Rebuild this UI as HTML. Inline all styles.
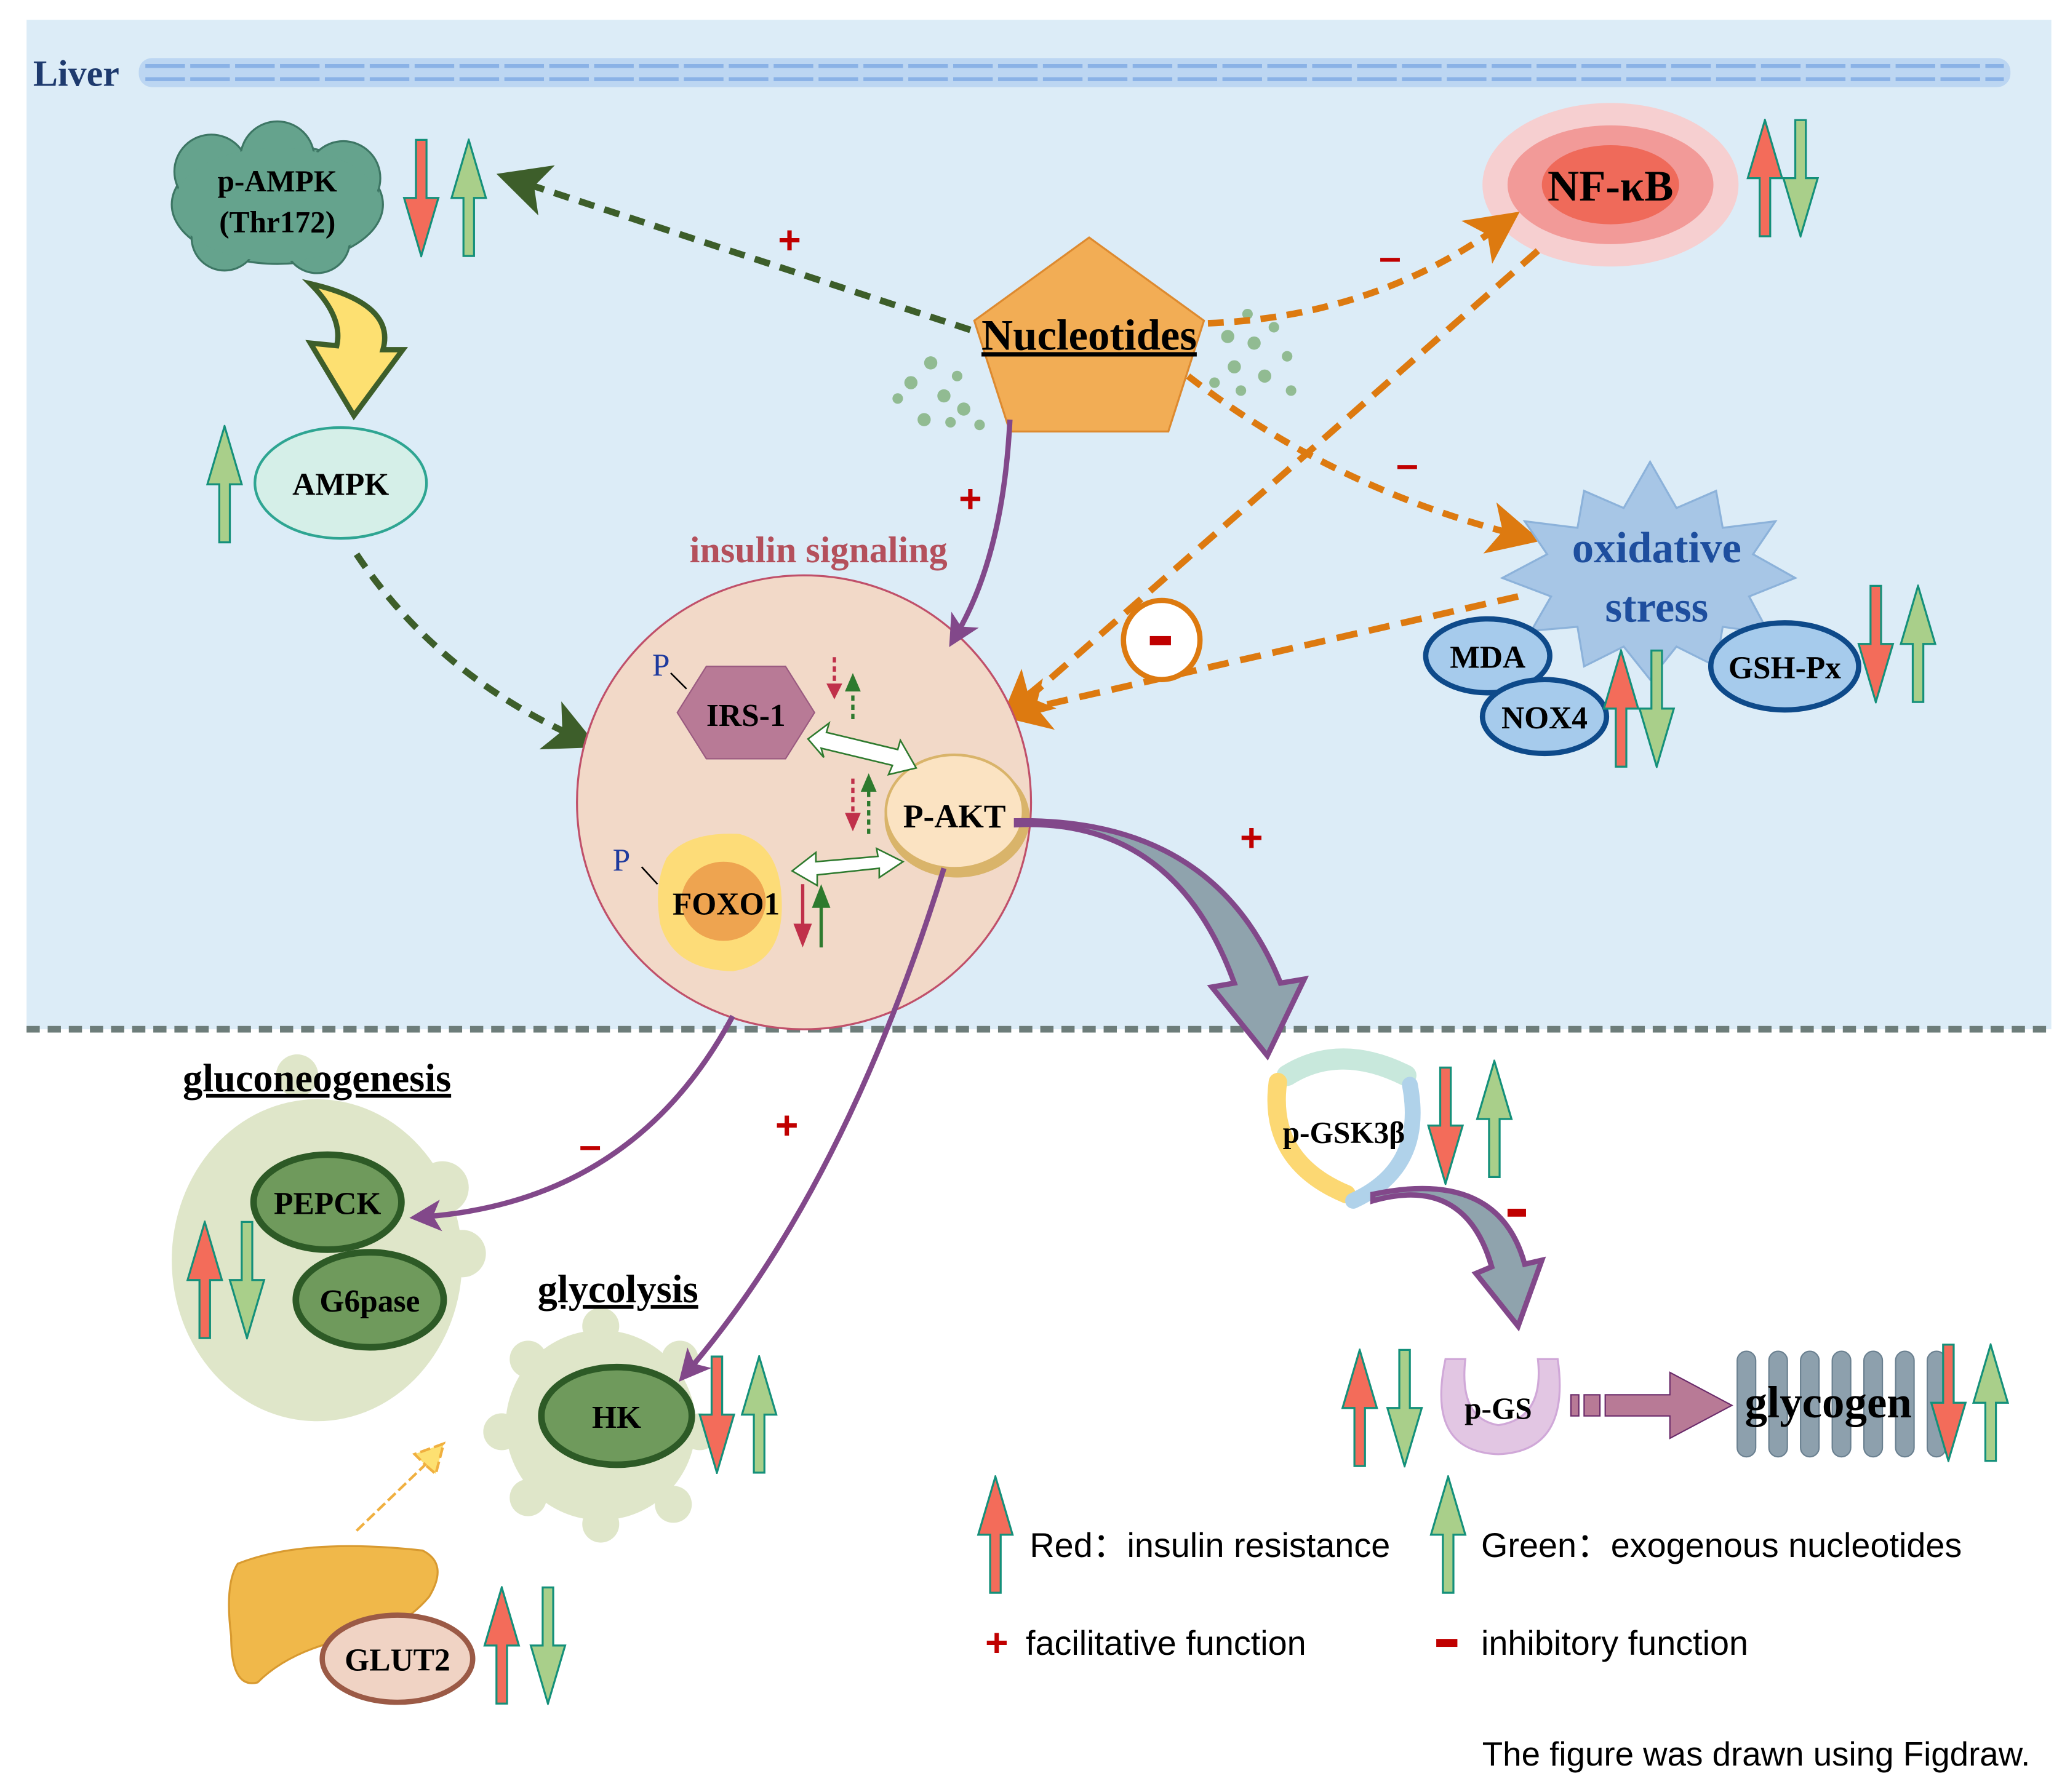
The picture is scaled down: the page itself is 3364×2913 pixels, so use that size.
<!DOCTYPE html>
<html><head><meta charset="utf-8"><style>html,body{margin:0;padding:0;background:#fff}svg{display:block}</style></head><body>
<svg width="3364" height="2913" viewBox="0 0 1568 1358" xmlns="http://www.w3.org/2000/svg" font-family="Liberation Serif, serif" font-weight="bold">
<defs>
<symbol id="ru" viewBox="0 0 28 90"><polygon points="14,1 27,45 18,45 18,89 10,89 10,45 1,45" fill="#f36c5a" stroke="#14907a" stroke-width="1.5"/></symbol>
<symbol id="rd" viewBox="0 0 28 90"><polygon points="14,89 27,45 18,45 18,1 10,1 10,45 1,45" fill="#f36c5a" stroke="#14907a" stroke-width="1.5"/></symbol>
<symbol id="gu" viewBox="0 0 28 90"><polygon points="14,1 27,45 18,45 18,89 10,89 10,45 1,45" fill="#a9cf8a" stroke="#14907a" stroke-width="1.5"/></symbol>
<symbol id="gd" viewBox="0 0 28 90"><polygon points="14,89 27,45 18,45 18,1 10,1 10,45 1,45" fill="#a9cf8a" stroke="#14907a" stroke-width="1.5"/></symbol>
<marker id="mg" markerWidth="8" markerHeight="8" refX="4" refY="4" orient="auto" markerUnits="strokeWidth"><path d="M0,0 L8,4 L0,8 L2,4z" fill="#3d5e2a"/></marker>
<marker id="mo" markerWidth="8" markerHeight="8" refX="4" refY="4" orient="auto" markerUnits="strokeWidth"><path d="M0,0 L8,4 L0,8 L2,4z" fill="#dd7a10"/></marker>
<marker id="mp" markerWidth="6" markerHeight="6" refX="3" refY="3" orient="auto" markerUnits="strokeWidth"><path d="M0,0 L6,3 L0,6 L1.5,3z" fill="#82488a"/></marker>
</defs>
<rect x="20" y="15" width="1534" height="765" fill="#dcecf7"/>
<line x1="20" y1="780" x2="1554" y2="780" stroke="#6d7d7a" stroke-width="5" stroke-dasharray="10,6"/>
<text x="25" y="65" font-size="28" fill="#1e3a6e">Liver</text>
<rect x="105" y="44" width="1418" height="22" rx="10" fill="#bcd6f2"/>
<line x1="110" y1="50" x2="1518" y2="50" stroke="#8ab2e6" stroke-width="3" stroke-dasharray="30,4"/>
<line x1="110" y1="60" x2="1518" y2="60" stroke="#8ab2e6" stroke-width="3" stroke-dasharray="30,4"/>

<!-- p-AMPK cloud -->
<g fill="#65a38d" stroke="#3d7664" stroke-width="1.5">
<ellipse cx="210" cy="155" rx="80" ry="45"/><circle cx="160" cy="130" r="28"/><circle cx="210" cy="120" r="28"/><circle cx="260" cy="135" r="28"/><circle cx="170" cy="180" r="25"/><circle cx="240" cy="182" r="25"/>
</g>
<ellipse cx="210" cy="155" rx="78" ry="43" fill="#65a38d"/>
<text x="210" y="145" font-size="23" text-anchor="middle">p-AMPK</text>
<text x="210" y="176" font-size="23" text-anchor="middle">(Thr172)</text>
<use href="#rd" x="305" y="105" width="28" height="90"/>
<use href="#gu" x="341" y="105" width="28" height="90"/>
<path d="M235,215 Q300,230 290,265 L305,265 L268,315 L235,260 L255,262 Q260,240 235,215z" fill="#fde071" stroke="#3d5e2a" stroke-width="4"/>
<ellipse cx="258" cy="366" rx="65" ry="42" fill="#d5efe8" stroke="#2ea592" stroke-width="2"/>
<text x="258" y="375" font-size="24" text-anchor="middle">AMPK</text>
<use href="#gu" x="156" y="322" width="28" height="90"/>
<path d="M270,420 Q330,510 435,558" fill="none" stroke="#3d5e2a" stroke-width="5" stroke-dasharray="12,8" marker-end="url(#mg)"/>
<path d="M735,250 L395,138" fill="none" stroke="#3d5e2a" stroke-width="5" stroke-dasharray="12,8" marker-end="url(#mg)"/>
<text x="598" y="192" font-size="30" fill="#c00000" text-anchor="middle" font-family="Liberation Sans">+</text>

<!-- dots -->
<g fill="#7fb07a" opacity="0.8">
<circle cx="690" cy="290" r="5"/><circle cx="705" cy="275" r="5"/><circle cx="715" cy="300" r="5"/><circle cx="700" cy="318" r="5"/><circle cx="725" cy="285" r="4"/><circle cx="730" cy="310" r="5"/><circle cx="742" cy="322" r="4"/><circle cx="720" cy="320" r="4"/><circle cx="680" cy="302" r="4"/>
<circle cx="930" cy="255" r="5"/><circle cx="950" cy="260" r="5"/><circle cx="945" cy="238" r="4"/><circle cx="965" cy="248" r="4"/><circle cx="935" cy="278" r="5"/><circle cx="958" cy="285" r="5"/><circle cx="975" cy="270" r="4"/><circle cx="940" cy="296" r="4"/><circle cx="978" cy="296" r="4"/><circle cx="920" cy="290" r="4"/>
</g>
<polygon points="825,180 912,243 885,327 765,327 738,243" fill="#f2ad55" stroke="#dd8a30" stroke-width="1.5"/>
<text x="825" y="265" font-size="33" text-anchor="middle" text-decoration="underline">Nucleotides</text>

<!-- NF-kB -->
<ellipse cx="1220" cy="140" rx="97" ry="62" fill="#f6cfd0"/>
<ellipse cx="1220" cy="140" rx="78" ry="45" fill="#f29a98"/>
<ellipse cx="1220" cy="140" rx="52" ry="30" fill="#ef6a5a"/>
<text x="1220" y="152" font-size="33" text-anchor="middle">NF-κB</text>
<use href="#ru" x="1323" y="90" width="28" height="90"/>
<use href="#gd" x="1350" y="90" width="28" height="90"/>

<path d="M915,245 Q1040,240 1135,172" fill="none" stroke="#dd7a10" stroke-width="5" stroke-dasharray="12,8" marker-end="url(#mo)"/>
<path d="M900,285 Q1010,370 1148,405" fill="none" stroke="#dd7a10" stroke-width="5" stroke-dasharray="12,8" marker-end="url(#mo)"/>
<path d="M1165,190 L772,535" fill="none" stroke="#dd7a10" stroke-width="5" stroke-dasharray="16,9" marker-end="url(#mo)"/>
<path d="M1150,452 L775,538" fill="none" stroke="#dd7a10" stroke-width="5" stroke-dasharray="16,9" marker-end="url(#mo)"/>
<text x="1053" y="205" font-size="30" fill="#c00000" text-anchor="middle" font-family="Liberation Sans">–</text>
<text x="1066" y="362" font-size="30" fill="#c00000" text-anchor="middle" font-family="Liberation Sans">–</text>
<ellipse cx="880" cy="485" rx="29" ry="30" fill="#fff" stroke="#dd7a10" stroke-width="4"/>
<rect x="871" y="482" width="16" height="7" fill="#c00000"/>

<!-- oxidative stress -->
<polygon points="1250,350 1270,385 1300,372 1305,400 1345,395 1328,420 1360,438 1325,452 1340,480 1305,475 1300,505 1270,490 1250,515 1230,490 1200,505 1195,475 1160,478 1175,452 1138,438 1172,420 1155,395 1195,400 1200,372 1230,385" fill="#a7c6e6" stroke="#8cb2da" stroke-width="1.5"/>
<text x="1255" y="426" font-size="33" fill="#1e4e9e" text-anchor="middle">oxidative</text>
<text x="1255" y="471" font-size="33" fill="#1e4e9e" text-anchor="middle">stress</text>
<ellipse cx="1127" cy="497" rx="47" ry="28" fill="#a6cbec" stroke="#0e4a8a" stroke-width="4"/>
<text x="1127" y="506" font-size="24" text-anchor="middle">MDA</text>
<ellipse cx="1170" cy="543" rx="47" ry="28" fill="#a6cbec" stroke="#0e4a8a" stroke-width="4"/>
<text x="1170" y="552" font-size="24" text-anchor="middle">NOX4</text>
<ellipse cx="1352" cy="505" rx="56" ry="33" fill="#a6cbec" stroke="#0e4a8a" stroke-width="4"/>
<text x="1352" y="514" font-size="24" text-anchor="middle">GSH-Px</text>
<use href="#ru" x="1214" y="492" width="28" height="90"/>
<use href="#gd" x="1241" y="492" width="28" height="90"/>
<use href="#rd" x="1407" y="443" width="28" height="90"/>
<use href="#gu" x="1439" y="443" width="28" height="90"/>

<!-- insulin signaling circle -->
<text x="620" y="426" font-size="28" fill="#b4505c" text-anchor="middle">insulin signaling</text>
<ellipse cx="609" cy="608" rx="172" ry="172" fill="#f2d9c8" stroke="#c0506a" stroke-width="1.5"/>
<path d="M765,318 Q760,420 725,480" fill="none" stroke="#82488a" stroke-width="4" marker-end="url(#mp)"/>
<text x="735" y="388" font-size="30" fill="#c00000" text-anchor="middle" font-family="Liberation Sans">+</text>
<polygon points="513,540 535,505 595,505 617,540 595,575 535,575" fill="#b87a96" stroke="#9a5a80" stroke-width="1"/>
<text x="565" y="550" font-size="24" text-anchor="middle">IRS-1</text>
<text x="494" y="512" font-size="24" fill="#1e3a9e" font-weight="normal">P</text>
<line x1="508" y1="510" x2="520" y2="522" stroke="#000" stroke-width="1.2"/>
<ellipse cx="725" cy="620" rx="55" ry="45" fill="#d9b46a"/>
<ellipse cx="723" cy="615" rx="52" ry="43" fill="#fbe3c2" stroke="#d9b46a" stroke-width="2"/>
<text x="723" y="627" font-size="25" text-anchor="middle">P-AKT</text>
<path d="M505,650 Q520,630 560,632 Q590,640 592,680 Q595,730 555,736 Q510,735 500,700 Q495,670 505,650z" fill="#fddc78"/>
<ellipse cx="548" cy="683" rx="32" ry="30" fill="#eea450"/>
<text x="550" y="693" font-size="24" text-anchor="middle">FOXO1</text>
<text x="464" y="660" font-size="24" fill="#1e3a9e" font-weight="normal">P</text>
<line x1="486" y1="657" x2="498" y2="670" stroke="#000" stroke-width="1.2"/>
<path d="M612,560 L628,548 L626,555 L680,568 L682,561 L694,582 L673,587 L676,580 L622,567 L624,574z" fill="#fff" stroke="#2e7a2e" stroke-width="1.2"/>
<path d="M600,660 L618,646 L618,653 L665,649 L664,643 L684,653 L666,665 L666,658 L619,663 L619,671z" fill="#fff" stroke="#2e7a2e" stroke-width="1.2"/>
<line x1="632" y1="498" x2="632" y2="520" stroke="#c0304a" stroke-width="2.5" stroke-dasharray="4,3"/><polygon points="626,518 638,518 632,530" fill="#c0304a"/>
<line x1="646" y1="545" x2="646" y2="522" stroke="#2e7a2e" stroke-width="2.5" stroke-dasharray="4,3"/><polygon points="640,524 652,524 646,510" fill="#2e7a2e"/>
<line x1="646" y1="590" x2="646" y2="618" stroke="#c0304a" stroke-width="2.5" stroke-dasharray="4,3"/><polygon points="640,616 652,616 646,630" fill="#c0304a"/>
<line x1="658" y1="632" x2="658" y2="598" stroke="#2e7a2e" stroke-width="2.5" stroke-dasharray="4,3"/><polygon points="652,600 664,600 658,586" fill="#2e7a2e"/>
<line x1="608" y1="670" x2="608" y2="705" stroke="#c0304a" stroke-width="2.5"/><polygon points="601,700 615,700 608,718" fill="#c0304a"/>
<line x1="622" y1="718" x2="622" y2="685" stroke="#2e7a2e" stroke-width="2.5"/><polygon points="615,688 629,688 622,670" fill="#2e7a2e"/>

<!-- big gray arrow PAKT->GSK -->
<path d="M770,625 Q890,620 935,745 L918,748 L960,800 L988,742 L970,745 Q920,620 770,622z" fill="#8fa3ad" stroke="#82488a" stroke-width="4"/>
<text x="948" y="645" font-size="30" fill="#c00000" text-anchor="middle" font-family="Liberation Sans">+</text>

<!-- gluconeogenesis -->
<g fill="#dfe6c9">
<ellipse cx="240" cy="955" rx="110" ry="122"/><circle cx="225" cy="815" r="16"/><circle cx="335" cy="900" r="20"/><circle cx="350" cy="950" r="18"/>
</g>
<text x="240" y="827" font-size="30" text-anchor="middle" text-decoration="underline">gluconeogenesis</text>
<ellipse cx="280" cy="985" rx="56" ry="36" fill="#6f9a5c" stroke="#2d5a26" stroke-width="5"/>
<text x="280" y="994" font-size="24" text-anchor="middle">G6pase</text>
<ellipse cx="248" cy="911" rx="56" ry="36" fill="#6f9a5c" stroke="#2d5a26" stroke-width="5"/>
<text x="248" y="920" font-size="24" text-anchor="middle">PEPCK</text>
<use href="#ru" x="141" y="925" width="28" height="90"/>
<use href="#gd" x="173" y="925" width="28" height="90"/>

<!-- glycolysis -->
<g fill="#dfe6c9">
<circle cx="455" cy="1080" r="72"/>
<circle cx="400" cy="1030" r="14"/><circle cx="455" cy="1005" r="14"/><circle cx="515" cy="1030" r="14"/><circle cx="530" cy="1085" r="14"/><circle cx="510" cy="1140" r="14"/><circle cx="455" cy="1155" r="14"/><circle cx="400" cy="1135" r="14"/><circle cx="380" cy="1085" r="14"/>
</g>
<text x="468" y="987" font-size="30" text-anchor="middle" text-decoration="underline">glycolysis</text>
<ellipse cx="467" cy="1073" rx="57" ry="37" fill="#6f9a5c" stroke="#2d5a26" stroke-width="5"/>
<text x="467" y="1082" font-size="24" text-anchor="middle">HK</text>
<use href="#rd" x="529" y="1027" width="28" height="90"/>
<use href="#gu" x="561" y="1027" width="28" height="90"/>
<path d="M270,1160 L322,1110 L314,1102 L336,1094 L330,1117 L322,1110" fill="#fde071" stroke="#f0b040" stroke-width="2" stroke-dasharray="8,3"/>

<!-- purple arrows lower (on top) -->
<path d="M555,770 Q480,910 322,922" fill="none" stroke="#82488a" stroke-width="4" marker-end="url(#mp)"/>
<text x="447" y="878" font-size="30" fill="#c00000" text-anchor="middle" font-family="Liberation Sans">–</text>
<path d="M715,658 Q640,900 522,1038" fill="none" stroke="#82488a" stroke-width="4" marker-end="url(#mp)"/>
<text x="596" y="863" font-size="30" fill="#c00000" text-anchor="middle" font-family="Liberation Sans">+</text>

<!-- liver organ -->
<path d="M180,1185 Q230,1165 320,1175 Q340,1185 325,1210 Q300,1240 250,1245 Q215,1255 195,1275 Q175,1280 175,1240 Q170,1200 180,1185z" fill="#f0b84a" stroke="#d89a30" stroke-width="1.5"/>
<ellipse cx="301" cy="1257" rx="57" ry="33" fill="#f0d3c4" stroke="#9b5a46" stroke-width="4"/>
<text x="301" y="1266" font-size="24" text-anchor="middle">GLUT2</text>
<use href="#ru" x="366" y="1202" width="28" height="90"/>
<use href="#gd" x="401" y="1202" width="28" height="90"/>

<!-- GSK3b -->
<path d="M975,815 Q1015,790 1065,815" fill="none" stroke="#c8e8dc" stroke-width="16" stroke-linecap="round"/>
<path d="M968,820 Q960,880 1020,905" fill="none" stroke="#fcd873" stroke-width="14" stroke-linecap="round"/>
<path d="M1068,822 Q1080,885 1025,910" fill="none" stroke="#b0d2ea" stroke-width="12" stroke-linecap="round"/>
<text x="1018" y="866" font-size="23" text-anchor="middle">p-GSK3β</text>
<use href="#rd" x="1081" y="808" width="28" height="90"/>
<use href="#gu" x="1118" y="803" width="28" height="90"/>
<path d="M1040,910 Q1110,890 1130,960 L1118,965 L1150,1005 L1168,955 L1155,958 Q1135,885 1040,905z" fill="#8fa3ad" stroke="#82488a" stroke-width="4"/>
<rect x="1142" y="916" width="14" height="6" fill="#c00000"/>

<!-- p-GS -->
<path d="M1095,1030 Q1080,1100 1135,1102 Q1190,1100 1180,1030 L1165,1030 Q1170,1075 1135,1080 Q1105,1075 1110,1030z" fill="#e2c6e3" stroke="#d0a8d8" stroke-width="1.5"/>
<text x="1135" y="1075" font-size="23" text-anchor="middle">p-GS</text>
<use href="#ru" x="1016" y="1022" width="28" height="90"/>
<use href="#gd" x="1050" y="1022" width="28" height="90"/>
<rect x="1190" y="1057" width="6" height="16" fill="#b87a96" stroke="#6a2a6a" stroke-width="1"/>
<rect x="1200" y="1057" width="12" height="16" fill="#b87a96" stroke="#6a2a6a" stroke-width="1"/>
<polygon points="1216,1057 1265,1057 1265,1040 1312,1065 1265,1090 1265,1073 1216,1073" fill="#b87a96" stroke="#6a2a6a" stroke-width="1"/>
<g fill="#8da0ad" stroke="#6a8090" stroke-width="1">
<rect x="1316" y="1024" width="14" height="80" rx="7"/><rect x="1340" y="1024" width="14" height="80" rx="7"/><rect x="1364" y="1024" width="14" height="80" rx="7"/><rect x="1388" y="1024" width="14" height="80" rx="7"/><rect x="1412" y="1024" width="14" height="80" rx="7"/><rect x="1436" y="1024" width="14" height="80" rx="7"/><rect x="1460" y="1024" width="14" height="80" rx="7"/>
</g>
<text x="1385" y="1074" font-size="34" text-anchor="middle">glycogen</text>
<use href="#rd" x="1462" y="1018" width="28" height="90"/>
<use href="#gu" x="1494" y="1018" width="28" height="90"/>

<!-- legend -->
<use href="#ru" x="740" y="1118" width="28" height="90"/>
<text x="780" y="1180" font-size="26" font-family="Liberation Sans" font-weight="normal">Red：insulin resistance</text>
<use href="#gu" x="1083" y="1118" width="28" height="90"/>
<text x="1122" y="1180" font-size="26" font-family="Liberation Sans" font-weight="normal">Green：exogenous nucleotides</text>
<text x="755" y="1255" font-size="30" fill="#c00000" text-anchor="middle" font-family="Liberation Sans">+</text>
<text x="777" y="1254" font-size="26" font-family="Liberation Sans" font-weight="normal">facilitative function</text>
<rect x="1088" y="1242" width="16" height="6" fill="#c00000"/>
<text x="1122" y="1254" font-size="26" font-family="Liberation Sans" font-weight="normal">inhibitory function</text>
<text x="1538" y="1338" font-size="25.5" text-anchor="end" font-family="Liberation Sans" font-weight="normal">The figure was drawn using Figdraw.</text>
</svg>
</body></html>
